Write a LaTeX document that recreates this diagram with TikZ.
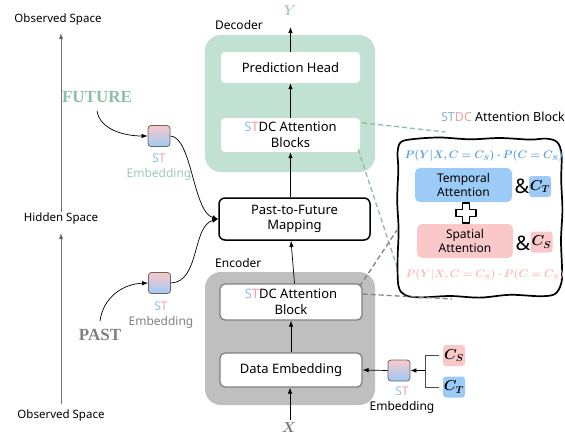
\documentclass[tikz,border=0pt]{standalone}
\usepackage{fontspec}
\usepackage{amsmath}
\usepackage{bm}
\setmainfont{Noto Sans}
\newfontfamily\serifb{Liberation Serif}
\usetikzlibrary{arrows.meta}
\definecolor{decgreen}{RGB}{193,225,210}
\definecolor{encgray}{RGB}{191,191,191}
\definecolor{futgreen}{RGB}{141,190,168}
\definecolor{embgreen}{RGB}{160,200,185}
\definecolor{pastgray}{RGB}{128,128,128}
\definecolor{blueS}{RGB}{140,190,240}
\definecolor{pinkT}{RGB}{242,160,160}
\definecolor{tempblue}{RGB}{157,203,247}
\definecolor{spatpink}{RGB}{250,200,200}
\definecolor{formblue}{RGB}{90,160,225}
\definecolor{formpink}{RGB}{248,185,185}
\definecolor{ylab}{RGB}{170,205,195}
\definecolor{xlab}{RGB}{120,120,120}
\definecolor{dashgreen}{RGB}{140,190,170}
\definecolor{dashgray}{RGB}{130,130,130}
\newcommand{\ST}{\textcolor{blueS}{S}\textcolor{pinkT}{T}}
\begin{document}
\begin{tikzpicture}[x=1pt,y=-1pt,
  txt/.style={font=\fontsize{11.5}{13}\selectfont, inner sep=1pt},
  boxtxt/.style={font=\fontsize{13}{15.5}\selectfont, align=center},
  smalltxt/.style={font=\fontsize{12}{14.5}\selectfont, align=center},
  whitebox/.style={boxtxt, fill=white, rounded corners=4pt, inner sep=0pt},
  graybox/.style={boxtxt, fill=white, draw=pastgray, line width=1.3pt, rounded corners=5pt, inner sep=0pt},
  bigbox/.style={rounded corners=16pt, inner sep=0pt},
  stbox/.style={draw=black!60, line width=0.8pt, rounded corners=3pt, top color=spatpink, bottom color=tempblue, minimum width=22pt, minimum height=21pt, inner sep=0pt},
  cbox/.style={rounded corners=3pt, minimum width=22pt, minimum height=21pt, inner sep=0pt, font=\fontsize{14}{14}\selectfont},
  arr/.style={-{Latex[length=6pt,width=4.5pt]}, line width=0.7pt},
  axis/.style={draw=black!55, line width=1pt, -{Latex[length=6pt,width=4.5pt,fill=black]}},
  dgreen/.style={dashgreen, dash pattern=on 5pt off 3pt, line width=1.3pt},
  dgray/.style={dashgray, dash pattern=on 5pt off 3pt, line width=1.3pt},
  bigword/.style={font=\serifb\bfseries\fontsize{17}{17}\selectfont, inner sep=0pt},
]
\useasboundingbox (0,0) rectangle (565,437);

% left axis
\node[txt] (obsTop) at (58,20) {Observed Space};
\node[txt] (hidden) at (61,219) {Hidden Space};
\node[txt] (obsBot) at (61,416) {Observed Space};
\coordinate (axTop) at (61,33);
\coordinate (axMid) at (61,233);
\coordinate (axBot) at (61,404);
\draw[axis] (hidden.north) -- (axTop);
\draw[axis] (axBot) -- (axMid);

% decoder
\node[bigbox, fill=decgreen, minimum width=170pt, minimum height=137pt] (dec) at (290,103.5) {};
\node[txt, anchor=west, font=\fontsize{12}{14}\selectfont] (declab) at (214,25) {Decoder};
\node[whitebox, minimum width=139pt, minimum height=31pt] (pred) at (290.5,67.5) {Prediction Head};
\node[whitebox, minimum width=139pt, minimum height=34pt] (decB) at (290.5,135) {\ST DC Attention\\Blocks};
\node[font=\color{ylab}\fontsize{14}{14}\selectfont, inner sep=0pt] (Y) at (290,11) {$\bm{Y}$};

% past to future
\node[boxtxt, draw=black, line width=1.5pt, rounded corners=6pt, fill=white, minimum width=151pt, minimum height=42pt, inner sep=0pt] (p2f) at (294.5,219) {Past-to-Future\\Mapping};

% encoder
\node[bigbox, fill=encgray, minimum width=170pt, minimum height=133pt] (enc) at (290,338.5) {};
\node[txt, anchor=west, font=\fontsize{12}{14}\selectfont] (enclab) at (214,263) {Encoder};
\node[graybox, minimum width=142pt, minimum height=36pt] (encB) at (291,302) {\ST DC Attention\\Block};
\node[graybox, minimum width=142pt, minimum height=34pt] (demb) at (291,370) {Data Embedding};
\node[font=\color{xlab}\fontsize{14}{14}\selectfont, inner sep=0pt] (X) at (289,428) {$\bm{X}$};
\coordinate (xin) at (290,420);

% vertical arrows
\draw[arr] (pred.north) -- (290.5,27);
\draw[arr] (decB.north) -- (pred.south);
\draw[arr] (p2f.north -| decB.south) -- (decB.south);
\draw[arr] (encB.north -| p2f.south) -- (p2f.south -| encB.north);
\draw[arr] (demb.north) -- (encB.south);
\draw[arr] (xin) -- (xin |- demb.south);

% future / past branches
\node[bigword, text=futgreen] (fut) at (97,97) {FUTURE};
\node[stbox] (stU) at (159,136) {};
\node[txt, align=center, text=embgreen, font=\fontsize{12}{15}\selectfont] (stUl) at (159,167) {\ST\\Embedding};
\node[bigword, text=pastgray] (past) at (100,335) {PAST};
\node[stbox] (stL) at (159.5,283) {};
\node[txt, align=center, text=pastgray, font=\fontsize{12}{15}\selectfont] (stLl) at (161,315) {\ST\\Embedding};
\draw[arr] ([yshift=-8pt]fut.south) .. controls (100,130) and (125,136) .. (stU.west);
\draw[arr] ([yshift=8pt]past.north) .. controls (103,298) and (122,284) .. (stL.west);
\draw[arr] (stU.east) .. controls (192,137) and (193,212) .. (p2f.west);
\draw[arr] (stL.east) .. controls (200,282) and (192,226) .. (p2f.west);

% right ST embedding
\node[stbox] (stR) at (399,370.5) {};
\node[txt, align=center, font=\fontsize{12}{15}\selectfont] (stRl) at (402,400) {\ST\\Embedding};
\node[cbox, fill=spatpink] (cs) at (454,355.5) {$\bm{C_S}$};
\node[cbox, fill=tempblue] (ct) at (454,387) {$\bm{C_T}$};
\coordinate (brk) at (425,370.5);
\draw[black!70, line width=0.8pt] ([xshift=-4pt]cs.west) -- (brk |- cs.west) -- (brk |- ct.west) -- ([xshift=-4pt]ct.west);
\draw[arr] (brk) -- (stR.east);
\draw[arr] (stR.west) -- (demb.east);

% dashed zoom lines
\coordinate (g1e) at (445,132);
\coordinate (g2e) at (398,270);
\coordinate (k1e) at (397,230);
\coordinate (k2e) at (452,299);
\draw[dgreen] ([yshift=-5pt,xshift=2pt]decB.north east) -- (g1e);
\draw[dgreen] ([yshift=3pt,xshift=-2pt]decB.south east) -- (g2e);

% cloud panel (hand-drawn outline)
\draw[line width=1.7pt, fill=white, line join=round] plot[smooth cycle, tension=0.55] coordinates {
 (414,139) (440,137.5) (470,139.3) (500,138) (530,139.6) (546,138.6) (557,142) (561.5,154)
 (561.2,180) (562.4,210) (561,240) (562,268) (561.3,283) (555,294) (540,296.2)
 (510,294.8) (480,297.6) (450,296) (420,297.4) (405,295) (398.5,286) (397.6,260)
 (398.6,230) (397.2,200) (398.3,170) (397.6,152) (401,142)};
\node[coordinate] (cloud) at (480,217) {};

\draw[dgray] ([yshift=-3pt,xshift=-3pt]encB.north east) -- (k1e);
\draw[dgray] ([yshift=8pt]encB.east) -- (k2e);

\node[txt, font=\fontsize{12.5}{14}\selectfont, anchor=east, inner sep=0pt] (title) at (565,117) {\textcolor{blueS!80!gray}{ST}\textcolor{pinkT}{DC} Attention Block};
\node[font=\fontsize{10.5}{12}\selectfont, text=formblue, inner sep=0pt] (ftop) at (484,156) {$\bm{P(Y|X,C=C_S)\cdot P(C=C_S)}$};
\node[smalltxt, fill=tempblue, rounded corners=5pt, minimum width=97pt, minimum height=34pt, inner sep=0pt] (temp) at (463.5,185) {Temporal\\Attention};
\node[font=\bfseries\fontsize{20}{20}\selectfont, inner sep=0pt] (amp1) at (522,186) {\&};
\node[cbox, fill=tempblue] (ct2) at (540,186.5) {$\bm{C_T}$};
\node[smalltxt, fill=spatpink, rounded corners=5pt, minimum width=96pt, minimum height=34pt, inner sep=0pt] (spat) at (465,241) {Spatial\\Attention};
\node[font=\bfseries\fontsize{20}{20}\selectfont, inner sep=0pt] (amp2) at (523,243) {\&};
\node[cbox, fill=spatpink] (cs2) at (541.5,242) {$\bm{C_S}$};
\node[font=\fontsize{10.5}{12}\selectfont, text=formpink, inner sep=0pt] (fbot) at (485,275) {$\bm{P(Y|X,C=C_S)\cdot P(C=C_S)}$};
% plus sign
\node[coordinate] (plus) at (466,213) {};
\draw[line width=1.5pt, fill=white, line join=round] (plus) ++(-3.5,-10) -- ++(7,0) -- ++(0,6.5) -- ++(6.5,0) -- ++(0,7) -- ++(-6.5,0) -- ++(0,6.5) -- ++(-7,0) -- ++(0,-6.5) -- ++(-6.5,0) -- ++(0,-7) -- ++(6.5,0) -- cycle;
\end{tikzpicture}
\end{document}
